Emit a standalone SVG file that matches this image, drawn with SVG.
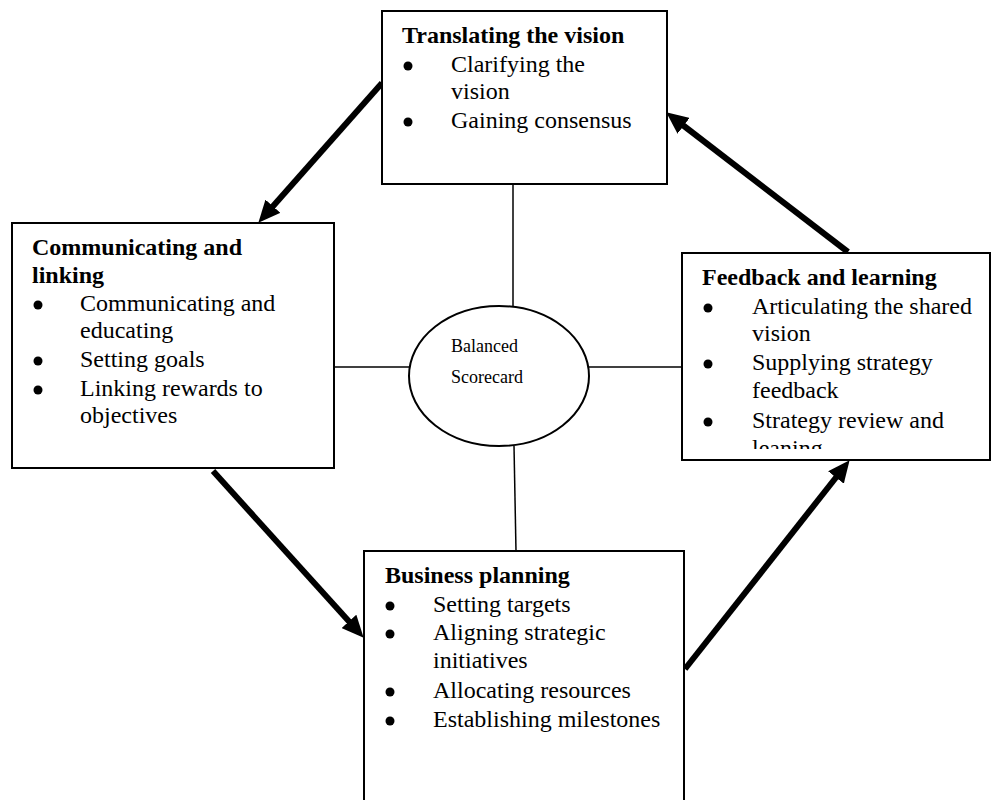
<svg xmlns="http://www.w3.org/2000/svg" width="992" height="800" viewBox="0 0 992 800">
  <style>
    .box { fill: #fff; stroke: #000; stroke-width: 2; }
    .hub { fill: #fff; stroke: #000; stroke-width: 2; }
    .link { stroke: #000; stroke-width: 1.5; fill: none; }
    .flow { stroke: #000; stroke-width: 6; fill: none; marker-end: url(#head); }
    .dot { fill: #000; }
    text { font-family: "Liberation Serif", "Times New Roman", serif; fill: #000; }
    .title { font-size: 24px; font-weight: bold; }
    .item { font-size: 24px; }
    .small { font-size: 18px; }
  </style>
  <defs>
    <marker id="head" viewBox="0 0 22 20" refX="7" refY="10" markerWidth="22" markerHeight="20" markerUnits="userSpaceOnUse" orient="auto">
      <path d="M0,0 L22,10 L0,20 z" fill="#000"/>
    </marker>
    <clipPath id="clipFeedback">
      <rect x="682" y="253" width="308" height="196"/>
    </clipPath>
  </defs>

  <rect width="992" height="800" fill="#fff"/>

  <!-- spokes from the hub to each box -->
  <g id="connectors">
    <line class="link" x1="513" y1="184" x2="513" y2="307"/>
    <line class="link" x1="514" y1="446" x2="516" y2="551"/>
    <line class="link" x1="334" y1="367" x2="410" y2="367"/>
    <line class="link" x1="588" y1="367" x2="682" y2="367"/>
    <!-- cycle arrows -->
    <line class="flow" x1="382" y1="83" x2="268.3" y2="211.5"/>
    <line class="flow" x1="213" y1="471" x2="353.6" y2="626.6"/>
    <line class="flow" x1="685" y1="669" x2="840.3" y2="472"/>
    <line class="flow" x1="848" y1="252" x2="678.1" y2="121.5"/>
  </g>

  <g id="translating">
    <rect class="box" x="382" y="11" width="285" height="173"/>
    <text class="title" x="402" y="43">Translating the vision</text>
    <circle class="dot" cx="408" cy="66" r="4.5"/>
    <text class="item" x="451" y="72">Clarifying the</text>
    <text class="item" x="451" y="99">vision</text>
    <circle class="dot" cx="408" cy="122" r="4.5"/>
    <text class="item" x="451" y="128">Gaining consensus</text>
  </g>

  <g id="communicating">
    <rect class="box" x="12" y="223" width="322" height="245"/>
    <text class="title" x="32" y="255">Communicating and</text>
    <text class="title" x="32" y="283">linking</text>
    <circle class="dot" cx="38" cy="305" r="4.5"/>
    <text class="item" x="80" y="311">Communicating and</text>
    <text class="item" x="80" y="338">educating</text>
    <circle class="dot" cx="38" cy="361" r="4.5"/>
    <text class="item" x="80" y="367">Setting goals</text>
    <circle class="dot" cx="38" cy="390" r="4.5"/>
    <text class="item" x="80" y="396">Linking rewards to</text>
    <text class="item" x="80" y="423">objectives</text>
  </g>

  <g id="feedback">
    <rect class="box" x="682" y="253" width="308" height="207"/>
    <g clip-path="url(#clipFeedback)">
      <text class="title" x="702" y="285">Feedback and learning</text>
      <circle class="dot" cx="708" cy="308" r="4.5"/>
      <text class="item" x="752" y="314">Articulating the shared</text>
      <text class="item" x="752" y="341">vision</text>
      <circle class="dot" cx="708" cy="364" r="4.5"/>
      <text class="item" x="752" y="370">Supplying strategy</text>
      <text class="item" x="752" y="398">feedback</text>
      <circle class="dot" cx="708" cy="422" r="4.5"/>
      <text class="item" x="752" y="428">Strategy review and</text>
      <text class="item" x="752" y="456">leaning</text>
    </g>
  </g>

  <g id="business">
    <rect class="box" x="364" y="551" width="320" height="260"/>
    <text class="title" x="385" y="583">Business planning</text>
    <circle class="dot" cx="390" cy="606" r="4.5"/>
    <text class="item" x="433" y="612">Setting targets</text>
    <circle class="dot" cx="390" cy="634" r="4.5"/>
    <text class="item" x="433" y="640">Aligning strategic</text>
    <text class="item" x="433" y="668">initiatives</text>
    <circle class="dot" cx="390" cy="692" r="4.5"/>
    <text class="item" x="433" y="698">Allocating resources</text>
    <circle class="dot" cx="390" cy="721" r="4.5"/>
    <text class="item" x="433" y="727">Establishing milestones</text>
  </g>

  <g id="scorecard">
    <ellipse class="hub" cx="499" cy="376" rx="90" ry="70"/>
    <text class="small" x="451" y="352">Balanced</text>
    <text class="small" x="451" y="383">Scorecard</text>
  </g>
</svg>
